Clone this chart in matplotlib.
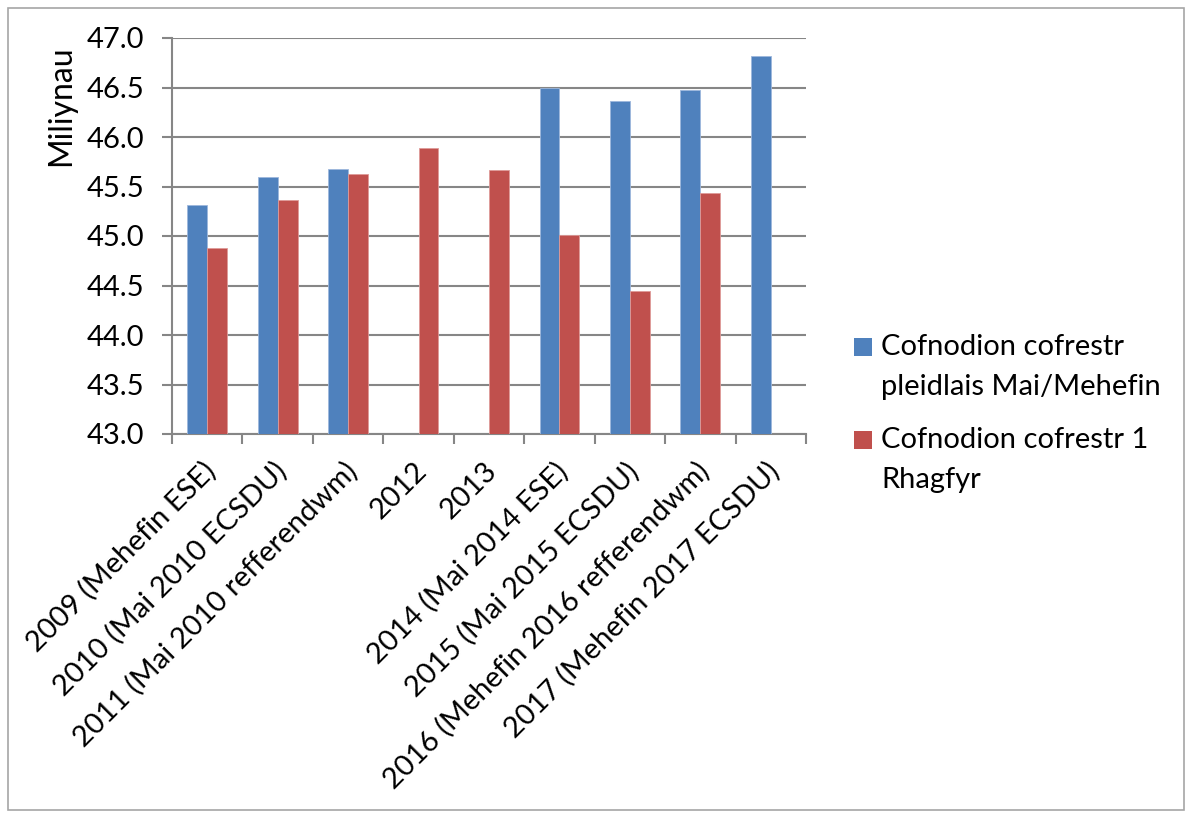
import numpy as np
import matplotlib
matplotlib.use("Agg")
import matplotlib.pyplot as plt
from matplotlib.patches import Rectangle
from matplotlib.transforms import ScaledTranslation

plt.rcParams['font.family'] = ['Lato', 'DejaVu Sans']

categories = ["2009 (Mehefin ESE)", "2010 (Mai 2010 ECSDU)", "2011 (Mai 2010 refferendwm)",
              "2012", "2013", "2014 (Mai 2014 ESE)", "2015 (Mai 2015 ECSDU)",
              "2016 (Mehefin 2016 refferendwm)", "2017 (Mehefin 2017 ECSDU)"]
may_june = [45.31, 45.60, 45.68, np.nan, np.nan, 46.49, 46.36, 46.47, 46.82]
december = [44.88, 45.36, 45.63, 45.89, 45.67, 45.01, 44.44, 45.43, np.nan]
series_names = ["Cofnodion cofrestr\npleidlais Mai/Mehefin", "Cofnodion cofrestr 1\nRhagfyr"]
yticks = [43.0, 43.5, 44.0, 44.5, 45.0, 45.5, 46.0, 46.5, 47.0]

blue = "#4F81BD"
red = "#C0504D"
grid_c = "#868686"
W, H = 1190, 814

fig = plt.figure(figsize=(11.9, 8.14), dpi=100)
ax = fig.add_axes([172/W, 1-434/H, (806-172)/W, (434-38)/H])

x = np.arange(len(categories))
w = 0.283
ax.bar(x - w/2, np.nan_to_num(may_june, nan=43.0) - 43.0, w, bottom=43.0, color=blue,
       edgecolor="#9DB7DC", linewidth=0.6, zorder=3)
ax.bar(x + w/2, np.nan_to_num(december, nan=43.0) - 43.0, w, bottom=43.0, color=red,
       edgecolor="#DE9A98", linewidth=0.6, zorder=3)

ax.set_xlim(-0.5, len(categories) - 0.5)
ax.set_ylim(43.0, 47.0)
ax.set_yticks(yticks)
ax.set_yticklabels(["%.1f" % v for v in yticks], fontsize=21)
ax.yaxis.grid(True, color=grid_c, linewidth=1.5, zorder=0)
ax.set_axisbelow(True)

# category separators as major ticks, labels on minor ticks at the centres
ax.set_xticks(np.arange(len(categories) + 1) - 0.5)
ax.set_xticklabels([])
ax.set_xticks(x, minor=True)
ax.set_xticklabels(categories, minor=True, rotation=45, ha='right', va='top',
                   rotation_mode='anchor', fontsize=21)
ax.tick_params(axis='x', which='minor', length=0, pad=17)
ax.tick_params(axis='x', which='major', length=7, width=1.5, color=grid_c)
ax.tick_params(axis='y', length=7, width=1.5, color=grid_c, pad=13)
shift = ScaledTranslation(-5/100, 0, fig.dpi_scale_trans)
for lab in ax.get_xticklabels(minor=True):
    lab.set_transform(lab.get_transform() + shift)

for s in ['top', 'right']:
    ax.spines[s].set_visible(False)
for s in ['left', 'bottom']:
    ax.spines[s].set_color(grid_c)
    ax.spines[s].set_linewidth(1.5)

fig.text(61/W, 1-106/H, "Miliynau", rotation=90, fontsize=23, ha='center', va='center')

# legend, first line of each entry level with its colour square
for i, (name, col) in enumerate(zip(series_names, [blue, red])):
    yc = 347 + i * 93
    fig.patches.append(Rectangle((854/W, 1-(yc+9)/H), 18/W, 18/H, transform=fig.transFigure,
                                 facecolor=col, edgecolor='none'))
    for j, line in enumerate(name.split("\n")):
        fig.text(881/W, 1-(yc+8+40*j)/H, line, fontsize=21, ha='left', va='baseline')

fig.patches.append(Rectangle((8/W, 4/H), 1176/W, 802/H, transform=fig.transFigure,
                             fill=False, edgecolor="#A6A6A6", linewidth=1.2))

fig.savefig("out.png", dpi=100)
